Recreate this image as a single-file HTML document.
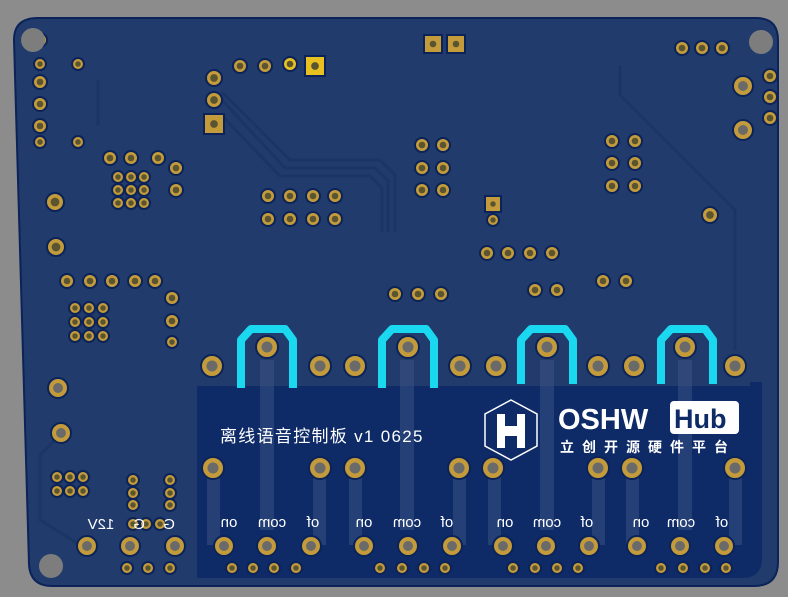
<!DOCTYPE html>
<html><head><meta charset="utf-8"><style>
body{margin:0;background:#8c8c8c;width:788px;height:597px;overflow:hidden}
svg{display:block}
.t{font-family:"Liberation Sans","Noto Sans CJK SC",sans-serif;fill:#fff}
</style></head><body>
<svg id="s" width="788" height="597" xmlns="http://www.w3.org/2000/svg">
<rect width="788" height="597" fill="#8c8c8c"/>
<path d="M38 18 L756 18 Q778 18 778 40 L778 562 Q778 586 754 586 L52 586 Q30 586 29 564 L14 40 Q14 18 38 18Z" fill="#213b6c" stroke="#0b2358" stroke-width="2"/>
<path d="M197 386 L750 386 L750 382 L762 382 L762 558 Q762 578 742 578 L197 578Z" fill="#0e2b67"/>
<g id="tr" fill="none" stroke="#1a3566" stroke-width="3">
<path d="M222 92 L290 160 L380 160 L395 175 L395 232"/>
<path d="M222 100 L285 168 L375 168 L388 181 L388 232"/>
<path d="M222 116 L280 176 L370 176 L382 188 L382 232"/>
<path d="M620 65 L620 95 L735 210 L735 350"/>
<path d="M60 435 L40 455 L40 520 L80 545"/>
<path d="M98 80 L98 125"/>
</g>
<g fill="#3d5586" opacity="0.5">
<rect x="260" y="360" width="14" height="170"/><rect x="400" y="360" width="14" height="170"/>
<rect x="540" y="360" width="14" height="170"/><rect x="678" y="360" width="14" height="170"/>
<rect x="207" y="470" width="13" height="75"/><rect x="313" y="470" width="13" height="75"/>
<rect x="349" y="470" width="13" height="75"/><rect x="453" y="470" width="13" height="75"/>
<rect x="488" y="470" width="13" height="75"/><rect x="592" y="470" width="13" height="75"/>
<rect x="626" y="470" width="13" height="75"/><rect x="729" y="470" width="13" height="75"/>
</g>
<g fill="none" stroke="#1ad8ef" stroke-width="8" stroke-linejoin="round">
<path d="M241 388 L241 340 L251 329 L285 329 L293 340 L293 388"/>
<path d="M382 388 L382 340 L392 329 L426 329 L434 340 L434 388"/>
<path d="M521 384 L521 340 L531 329 L565 329 L573 340 L573 384"/>
<path d="M661 384 L661 340 L671 329 L705 329 L713 340 L713 384"/>
</g>
<g id="pads"></g>
<g fill="#7d7d7d"><circle cx="33" cy="40" r="12"/><circle cx="761" cy="42" r="12"/><circle cx="51" cy="566" r="12"/></g>
<text class="t" x="220" y="442" font-size="17" letter-spacing="1.3">离线语音控制板 v1 0625</text>
<g class="t" font-size="15" text-anchor="middle">
<text transform="translate(229,527) scale(-1,1)">on</text>
<text transform="translate(272,527) scale(-1,1)">com</text>
<text transform="translate(313,527) scale(-1,1)">of</text>
<text transform="translate(364,527) scale(-1,1)">on</text>
<text transform="translate(407,527) scale(-1,1)">com</text>
<text transform="translate(447,527) scale(-1,1)">of</text>
<text transform="translate(505,527) scale(-1,1)">on</text>
<text transform="translate(547,527) scale(-1,1)">com</text>
<text transform="translate(587,527) scale(-1,1)">of</text>
<text transform="translate(641,527) scale(-1,1)">on</text>
<text transform="translate(681,527) scale(-1,1)">com</text>
<text transform="translate(722,527) scale(-1,1)">of</text>
<text transform="translate(101,529) scale(-1,1)">12V</text>
<text transform="translate(139,529) scale(-1,1)">G</text>
<text transform="translate(169,529) scale(-1,1)">G</text>
</g>
<path d="M511 400 L537 414 L537 446 L511 460 L485 446 L485 414Z" fill="none" stroke="#fff" stroke-width="1.5"/>
<path d="M497 414 L505 414 L505 426 L517 426 L517 414 L525 414 L525 448 L517 448 L517 436 L505 436 L505 448 L497 448Z" fill="#fff"/>
<text class="t" x="558" y="429" font-size="29" font-weight="bold">OSHW</text>
<rect x="670" y="401" width="69" height="33" rx="4" fill="#fff"/>
<text x="674" y="428" font-size="27" font-weight="bold" fill="#0e2b67" font-family="Liberation Sans,sans-serif">Hub</text>
<text class="t" x="560" y="452" font-size="14" font-weight="bold" letter-spacing="8">立创开源硬件平台</text>
</svg>
<script>
var P=[];function p(x,y,r,o){P.push([x,y,r||6,o||{}]);}
[212,320,355,460,496,598,634,735].forEach(x=>p(x,366,10));
[267,408,547,685].forEach(x=>p(x,347,10));
[213,320,355,459,493,598,632,735].forEach(x=>p(x,468,10));
[224,267,311,364,408,452,503,546,589,637,680,724,87,130,175].forEach(x=>p(x,546,9));
[232,253,274,296,380,402,424,445,513,535,557,578,661,683,705,726,127,148,170].forEach(x=>p(x,568,5));
[682,702,722].forEach(x=>p(x,48,6));p(743,86,9);p(743,130,9);p(770,76,6);p(770,97,6);p(770,118,6);
p(214,78,7);p(214,100,7);p(214,124,7,{sq:1});p(240,66,6);p(265,66,6);p(290,64,6,{y:1});p(315,66,7,{sq:1,y:1});
p(433,44,6,{sq:1});p(456,44,6,{sq:1});
[40,82,104,126].forEach(y=>p(40,y,6));p(40,64,5);p(40,142,5);p(78,142,5);p(78,64,5);
[110,131,158].forEach(x=>p(x,158,6));p(176,168,6);p(176,190,6);
for(var i=0;i<3;i++)for(var j=0;j<3;j++)p(118+i*13,177+j*13,5);
p(55,202,8);p(56,247,8);p(58,388,9);p(61,433,9);p(710,215,7);
[422,443].forEach(x=>{[145,168,190].forEach(y=>p(x,y,6));});
[612,635].forEach(x=>{[141,163,186].forEach(y=>p(x,y,6));});
[268,290,313,335].forEach(x=>{p(x,196,6);p(x,219,6);});
[487,508,530,552].forEach(x=>p(x,253,6));p(493,204,5,{sq:1});p(493,220,5);
[395,418,441].forEach(x=>p(x,294,6));p(535,290,6);p(557,290,6);p(603,281,6);p(626,281,6);
[67,90,112,135].forEach(x=>p(x,281,6));p(155,281,6);p(172,298,6);p(172,321,6);p(172,342,5);
for(i=0;i<3;i++)for(j=0;j<3;j++)p(75+i*14,308+j*14,5);
for(i=0;i<3;i++){p(57+i*13,477,5);p(57+i*13,491,5);}
[480,493,505].forEach(y=>{p(133,y,5);p(170,y,5);});p(133,524,5);p(146,524,5);p(160,524,5);
var s='';P.forEach(function(a){var x=a[0],y=a[1],r=a[2],o=a[3];var c=o.y?'#e8c020':'#c49b3a';
s+=o.sq?'<rect x="'+(x-r-3)+'" y="'+(y-r-3)+'" width="'+(2*r+6)+'" height="'+(2*r+6)+'" fill="'+c+'" stroke="#0b2358" stroke-width="2"/>'
:'<circle cx="'+x+'" cy="'+y+'" r="'+(r+1)+'" fill="'+c+'" stroke="#0b2358" stroke-width="2"/>';
s+='<circle cx="'+x+'" cy="'+y+'" r="'+(r*0.55)+'" fill="'+(r>=9?'#6a6a6a':'#5a5530')+'"/>';});
document.getElementById('pads').innerHTML=s;
</script>
</body></html>
